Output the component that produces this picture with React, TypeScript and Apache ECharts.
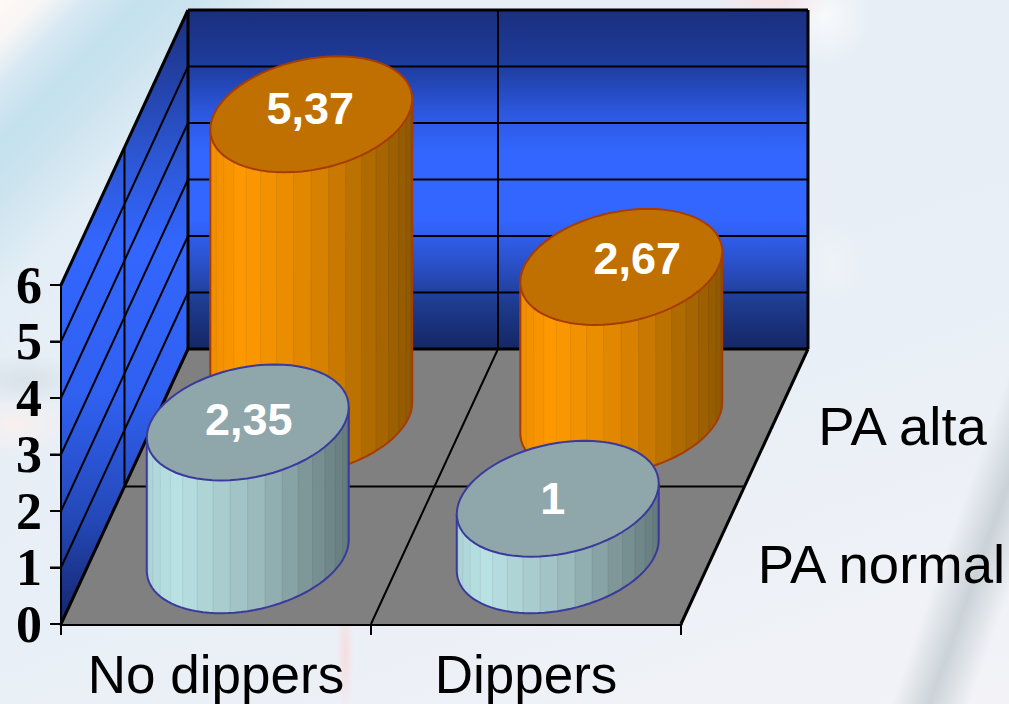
import React, { useEffect, useRef } from "react";
import * as echarts from "echarts";

const categories = ["No dippers", "Dippers"];
const seriesNames = ["PA normal", "PA alta"];
const paNormal = [2.35, 1];
const paAlta = [5.37, 2.67];
const yTicks = [0, 1, 2, 3, 4, 5, 6];

// Oblique projection of the chart box: the grid is its front plane.
const DEPTH_X = 127;
const DEPTH_Y = -275;
// Footprint of a cylinder, as screen offsets of its base circle's two axes.
const RADIUS_U = 97.4;
const RADIUS_VX = 26.7;
const RADIUS_VY = 58;
const STRIPS = 18;

const palettes = [
  {
    top: "#8fa6aa",
    edge: "#3a3a9c",
    body: [
      [0, [171, 211, 214]],
      [0.14, [185, 226, 229]],
      [0.5, [160, 192, 194]],
      [1, [100, 122, 124]],
    ],
  },
  {
    top: "#bf7000",
    edge: "#a63c00",
    body: [
      [0, [240, 142, 0]],
      [0.17, [255, 153, 0]],
      [0.5, [221, 133, 0]],
      [1, [143, 88, 0]],
    ],
  },
];

// Small shifts that keep the value captions clear of the ellipse rims.
const captionShift = [
  [[1, -3], [-1, -6]],
  [[-5, 0], [16, -8]],
];

const shade = (stops: any[], f: number) => {
  for (let i = 1; i < stops.length; i++) {
    if (f <= stops[i][0]) {
      const [a, ca] = stops[i - 1];
      const [b, cb] = stops[i];
      const k = (f - a) / (b - a);
      return ca.map((c: number, n: number) => Math.round(c + (cb[n] - c) * k));
    }
  }
  return stops[stops.length - 1][1];
};

const rgb = (c: number[]) => `rgb(${c[0]},${c[1]},${c[2]})`;

const renderBox = (params: any, api: any) => {
  const { x, width } = params.coordSys;
  const [, y0] = api.coord([0, yTicks[0]]);
  const [, yMax] = api.coord([0, yTicks[yTicks.length - 1]]);
  const xr = x + width;
  const bx = x + DEPTH_X;
  const bxr = xr + DEPTH_X;
  const by0 = y0 + DEPTH_Y;
  const byMax = yMax + DEPTH_Y;
  const midX = x + width / 2;

  const backFill = new echarts.graphic.LinearGradient(
    0, byMax, 0, by0,
    [
      { offset: 0, color: "#1a2f7e" },
      { offset: 0.16, color: "#1e3c9c" },
      { offset: 0.3, color: "#2c57de" },
      { offset: 0.42, color: "#3366ff" },
      { offset: 0.62, color: "#3366ff" },
      { offset: 0.75, color: "#2a50c8" },
      { offset: 0.87, color: "#1d3a8c" },
      { offset: 1, color: "#152766" },
    ],
    true
  );
  const sideFill = new echarts.graphic.LinearGradient(
    0, byMax, 0, y0,
    [
      { offset: 0, color: "#1a2f7e" },
      { offset: 0.23, color: "#2c55d0" },
      { offset: 0.38, color: "#3366ff" },
      { offset: 0.63, color: "#3060f0" },
      { offset: 0.83, color: "#2448b8" },
      { offset: 1, color: "#14256a" },
    ],
    true
  );

  const line = (x1: number, y1: number, x2: number, y2: number, w = 2) => ({
    type: "line",
    shape: { x1, y1, x2, y2 },
    style: { stroke: "#000", lineWidth: w },
  });

  const children: any[] = [
    {
      type: "polygon",
      shape: { points: [[bx, byMax], [bxr, byMax], [bxr, by0], [bx, by0]] },
      style: { fill: backFill },
    },
    {
      type: "polygon",
      shape: { points: [[x, yMax], [bx, byMax], [bx, by0], [x, y0]] },
      style: { fill: sideFill },
    },
    {
      type: "polygon",
      shape: { points: [[x, y0], [xr, y0], [bxr, by0], [bx, by0]] },
      style: { fill: "#808080" },
    },
  ];

  yTicks.slice(1, -1).forEach((t) => {
    const [, yt] = api.coord([0, t]);
    children.push(line(x, yt, bx, yt + DEPTH_Y));
    children.push(line(bx, yt + DEPTH_Y, bxr, yt + DEPTH_Y));
  });
  // Value-axis tick marks on the front edge of the side wall.
  yTicks.forEach((t) => {
    const [, yt] = api.coord([0, t]);
    children.push(line(x - 11, yt, x, yt));
  });
  // Divider planes between the categories and between the two rows.
  children.push(line(midX + DEPTH_X, byMax, midX + DEPTH_X, by0));
  children.push(line(x + DEPTH_X / 2, yMax + DEPTH_Y / 2, x + DEPTH_X / 2, y0 + DEPTH_Y / 2));
  children.push(line(midX, y0, midX + DEPTH_X, by0));
  children.push(line(x + DEPTH_X / 2, y0 + DEPTH_Y / 2, xr + DEPTH_X / 2, y0 + DEPTH_Y / 2));
  // Box outline.
  children.push(line(x, yMax, x, y0, 2));
  children.push(line(bx, byMax, bxr, byMax, 3));
  children.push(line(bxr, byMax, bxr, by0, 3));
  children.push(line(bx, byMax, bx, by0, 3));
  children.push(line(x, yMax, bx, byMax, 3));
  children.push(line(x, y0, bx, by0, 3));
  children.push(line(bx, by0, bxr, by0, 3));
  children.push(line(xr, y0, bxr, by0, 3));

  // Row names sit to the right of the floor, one per depth row.
  seriesNames.forEach((name, j) => {
    const d = (j + 0.5) / 2;
    children.push({
      type: "text",
      style: {
        text: name,
        x: xr + DEPTH_X * d + 45 - 3 * j,
        y: y0 + DEPTH_Y * d + 9,
        fill: "#000",
        font: '54.5px "Liberation Sans"',
        textAlign: "left",
        textVerticalAlign: "middle",
      },
    });
  });
  return { type: "group", children };
};

const renderCylinder = (j: number) => (params: any, api: any) => {
  const cat = api.value(0);
  const value = api.value(1);
  const d = (j + 0.5) / 2;
  const [fx, fy] = api.coord([cat, 0]);
  const [, fTop] = api.coord([cat, value]);
  const cx = fx + DEPTH_X * d;
  const cyBase = fy + DEPTH_Y * d;
  const cyTop = fTop + DEPTH_Y * d;
  const palette = palettes[j];

  const rim = (t: number, cy: number) => [
    cx + RADIUS_U * Math.cos(t) + RADIUS_VX * Math.sin(t),
    cy - RADIUS_VY * Math.sin(t),
  ];
  const tangent = Math.atan2(RADIUS_VX, RADIUS_U);
  const halfWidth = Math.hypot(RADIUS_U, RADIUS_VX);
  const start = tangent + Math.PI;

  const children: any[] = [];
  for (let i = 0; i < STRIPS; i++) {
    const t1 = start + (Math.PI * i) / STRIPS;
    const t2 = start + (Math.PI * (i + 1)) / STRIPS;
    const a = rim(t1, cyTop);
    const b = rim(t2, cyTop);
    const midF = ((a[0] + b[0]) / 2 - (cx - halfWidth)) / (2 * halfWidth);
    const color = shade(palette.body, midF);
    const seam = color.map((c: number) => Math.round(c * 0.95));
    children.push({
      type: "polygon",
      shape: { points: [a, b, rim(t2, cyBase), rim(t1, cyBase)] },
      style: { fill: rgb(color), stroke: rgb(seam), lineWidth: 0.8 },
    });
  }

  const outline: number[][] = [];
  for (let i = 0; i <= 48; i++) outline.push(rim(start + (Math.PI * i) / 48, cyBase));
  outline.unshift(rim(start, cyTop));
  outline.push(rim(start + Math.PI, cyTop));
  children.push({
    type: "polyline",
    shape: { points: outline },
    style: { fill: "none", stroke: palette.edge, lineWidth: 2 },
  });

  const lid: number[][] = [];
  for (let i = 0; i < 72; i++) lid.push(rim((Math.PI * 2 * i) / 72, cyTop));
  children.push({
    type: "polygon",
    shape: { points: lid },
    style: { fill: palette.top, stroke: palette.edge, lineWidth: 2 },
  });

  const [sx, sy] = captionShift[cat][j];
  children.push({
    type: "text",
    style: {
      text: String(value).replace(".", ","),
      x: cx + sx,
      y: cyTop + sy,
      fill: "#fff",
      font: 'bold 45px "Liberation Sans"',
      textAlign: "center",
      textVerticalAlign: "middle",
    },
  });
  return { type: "group", children };
};

const pageBackground = [
  "radial-gradient(ellipse 9px 62px at 345px 655px, rgba(255,205,205,0.55), rgba(255,205,205,0))",
  "radial-gradient(ellipse 60px 26px at 770px 0px, rgba(255,222,222,0.7), rgba(255,222,222,0))",
  "radial-gradient(ellipse 60px 30px at 15px 425px, rgba(250,240,238,0.9), rgba(250,240,238,0))",
  "radial-gradient(ellipse 70px 26px at 25px 380px, rgba(205,215,222,0.55), rgba(205,215,222,0))",
  "radial-gradient(ellipse 30px 40px at 832px 265px, rgba(244,245,248,0.6), rgba(244,245,248,0))",
  "radial-gradient(ellipse 45px 50px at 825px 15px, rgba(252,252,252,0.8), rgba(252,252,252,0))",
  "linear-gradient(109.6deg, rgba(190,200,206,0) 1075px, rgba(190,200,206,0.75) 1112px, rgba(190,200,206,0) 1150px)",
  "linear-gradient(135deg, #fff8f6 0px, #f8f6f6 28px, #d6e8f2 62px, #c4e1ee 100px, #cae3ef 135px, #e2edf5 205px, rgba(232,239,246,0) 270px)",
  "linear-gradient(160deg, #e6eef6 0%, #e8eff6 60%, #f3f3f7 100%)",
].join(",");

export default function App() {
  const ref = useRef<HTMLDivElement>(null);

  useEffect(() => {
    const chart = echarts.init(ref.current!, undefined, { renderer: "svg" });
    const toData = (values: number[]) => values.map((v, i) => [i, v]);
    chart.setOption({
      animation: false,
      grid: { left: 61, top: 285, width: 620, height: 339 },
      xAxis: {
        type: "category",
        data: categories,
        boundaryGap: true,
        axisLine: { show: true, lineStyle: { color: "#000", width: 3 } },
        axisTick: { show: true, inside: false, alignWithLabel: false, length: 11, lineStyle: { color: "#000", width: 2 } },
        axisLabel: {
          color: "#000",
          fontFamily: "Liberation Sans",
          fontSize: 53,
          margin: 24,
          interval: 0,
        },
      },
      yAxis: {
        type: "value",
        min: 0,
        max: 6,
        interval: 1,
        splitLine: { show: false },
        axisLine: { show: true, lineStyle: { color: "#000", width: 2 } },
        axisTick: { show: true, inside: false, length: 11, lineStyle: { color: "#000", width: 2 } },
        axisLabel: {
          color: "#000",
          fontFamily: "Liberation Serif",
          fontWeight: "bold",
          fontSize: 52,
          margin: 19,
        },
      },
      series: [
        {
          type: "custom",
          silent: true,
          clip: false,
          z: 1,
          renderItem: renderBox,
          encode: { x: 0, y: 1 },
          data: [[0, 0]],
        },
        {
          name: seriesNames[1],
          type: "custom",
          clip: false,
          z: 2,
          renderItem: renderCylinder(1),
          encode: { x: 0, y: 1 },
          data: toData(paAlta),
        },
        {
          name: seriesNames[0],
          type: "custom",
          clip: false,
          z: 3,
          renderItem: renderCylinder(0),
          encode: { x: 0, y: 1 },
          data: toData(paNormal),
        },
      ],
    });
    return () => chart.dispose();
  }, []);

  return (
    <div
      ref={ref}
      style={{
        position: "absolute",
        left: 0,
        top: 0,
        width: 1009,
        height: 704,
        background: pageBackground,
      }}
    />
  );
}
